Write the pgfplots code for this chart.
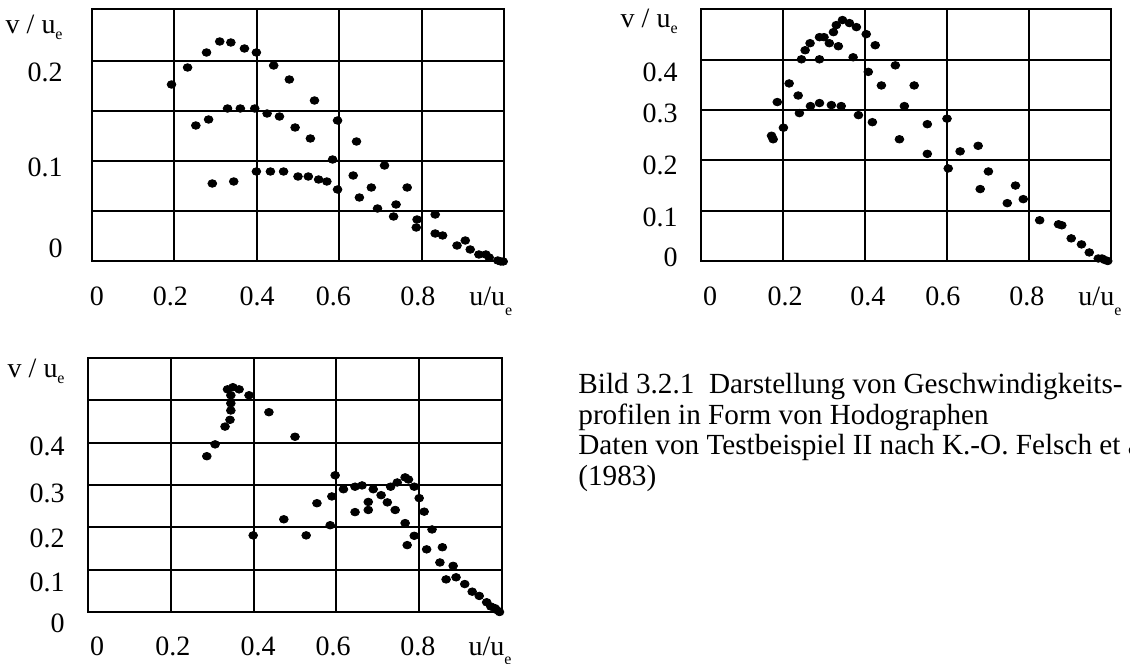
\documentclass[border=0pt]{standalone}
\usepackage{fontspec}
\setmainfont{Liberation Serif}
\usepackage{pgfplots}
\usepackage{pgfplotstable}
\pgfplotsset{compat=1.18}

\pgfplotstableread{
x y
0.193 0.177
0.232 0.194
0.278 0.209
0.310 0.220
0.337 0.219
0.370 0.213
0.399 0.209
0.441 0.196
0.479 0.182
0.540 0.161
0.596 0.141
0.642 0.120
0.584 0.102
0.710 0.096
0.765 0.074
0.634 0.086
0.596 0.072
0.678 0.074
0.649 0.064
0.693 0.053
0.738 0.057
0.732 0.045
0.789 0.042
0.787 0.034
0.833 0.047
0.833 0.028
0.851 0.026
0.886 0.016
0.906 0.021
0.918 0.012
0.939 0.007
0.956 0.007
0.964 0.004
0.985 0.001
0.992 0.000
0.998 0.000
0.252 0.136
0.283 0.142
0.329 0.153
0.360 0.153
0.395 0.153
0.425 0.148
0.455 0.145
0.493 0.134
0.530 0.123
0.292 0.078
0.344 0.080
0.399 0.090
0.433 0.090
0.465 0.090
0.500 0.085
0.525 0.085
0.550 0.082
0.570 0.080
}\dataA

\pgfplotstableread{
x y
0.172 0.249
0.176 0.242
0.186 0.316
0.201 0.265
0.215 0.353
0.237 0.329
0.240 0.294
0.245 0.401
0.254 0.419
0.266 0.433
0.267 0.308
0.289 0.314
0.289 0.401
0.289 0.445
0.300 0.445
0.313 0.433
0.318 0.310
0.323 0.455
0.330 0.469
0.335 0.427
0.342 0.308
0.345 0.479
0.362 0.473
0.371 0.405
0.379 0.465
0.384 0.290
0.403 0.451
0.408 0.376
0.418 0.276
0.425 0.429
0.440 0.349
0.474 0.389
0.484 0.242
0.496 0.308
0.520 0.349
0.552 0.272
0.552 0.213
0.600 0.283
0.632 0.218
0.676 0.229
0.603 0.184
0.701 0.178
0.681 0.143
0.767 0.150
0.747 0.115
0.786 0.123
0.826 0.081
0.872 0.073
0.880 0.071
0.903 0.045
0.928 0.033
0.947 0.017
0.969 0.005
0.978 0.005
0.985 0.002
0.992 0.000
}\dataB

\pgfplotstableread{
x y
0.287 0.368
0.307 0.396
0.331 0.438
0.343 0.454
0.345 0.476
0.345 0.493
0.345 0.512
0.337 0.526
0.350 0.531
0.365 0.526
0.389 0.512
0.437 0.472
0.500 0.414
0.399 0.181
0.473 0.219
0.527 0.181
0.553 0.257
0.585 0.205
0.589 0.273
0.597 0.323
0.617 0.290
0.645 0.296
0.662 0.299
0.645 0.236
0.677 0.260
0.677 0.241
0.689 0.290
0.708 0.276
0.723 0.259
0.731 0.296
0.747 0.306
0.766 0.318
0.774 0.313
0.742 0.241
0.766 0.210
0.788 0.296
0.800 0.269
0.788 0.180
0.771 0.158
0.812 0.237
0.831 0.195
0.818 0.148
0.856 0.153
0.850 0.117
0.882 0.109
0.865 0.077
0.889 0.082
0.910 0.066
0.928 0.048
0.945 0.038
0.963 0.023
0.973 0.013
0.983 0.009
0.987 0.005
0.994 0.000
}\dataC

\pgfplotsset{
  hodo/.style={
    scale only axis, clip=false,
    xmin=0, xmax=1, ymin=0,
    axis line style={line width=1pt},
    major tick length=0pt, minor tick length=0pt,
    tick style={draw=none},
    xmajorgrids=false, ymajorgrids=false,
    xminorgrids=true, yminorgrids=true,
    minor grid style={black, line width=1pt},
    minor xtick={0.2,0.4,0.6,0.8},
    /pgf/number format/assume math mode=true,
    ticklabel style={font=\fontsize{14}{16}\selectfont},
    xticklabel style={anchor=base, inner sep=0pt},
    yticklabel style={anchor=east, inner sep=0pt},
  },
  dots/.style={only marks, mark=*, mark size=1.9pt, black,
    mark options={xscale=1.15, fill=black, draw=black}},
}

\newcommand{\ue}{u/u\raisebox{-5pt}{\fontsize{8}{8}\selectfont e}}
\newcommand{\vu}{v / u\raisebox{-3pt}{\fontsize{8}{8}\selectfont e}}

\begin{document}
\begin{tikzpicture}[x=1pt,y=1pt]
\path[use as bounding box] (0,0) rectangle (565,332);

% Panel 1
\begin{axis}[hodo, at={(46pt,201.25pt)}, anchor=south west,
  width=206pt, height=126pt, ymax=0.252,
  minor ytick={0.05,0.1,0.15,0.2},
  xtick={0.012,0.190,0.401,0.586,0.791,0.968},
  xticklabels={0,0.2,0.4,0.6,0.8,\ue},
  ytick={0.013,0.094,0.189},
  yticklabels={0,0.1,0.2},
  xticklabel style={yshift=-22.25pt},
  yticklabel style={xshift=-14.5pt}]
\addplot[dots] table[x=x,y=y] {\dataA};
\end{axis}

% Panel 2
\begin{axis}[hodo, at={(350.5pt,201.5pt)}, anchor=south west,
  width=205pt, height=125.75pt, ymax=0.5,
  minor ytick={0.1,0.2,0.3,0.4},
  xtick={0.022,0.205,0.407,0.590,0.795,0.973},
  xticklabels={0,0.2,0.4,0.6,0.8,\ue},
  ytick={0.008,0.087,0.191,0.294,0.374},
  yticklabels={0,0.1,0.2,0.3,0.4},
  xticklabel style={yshift=-22.5pt},
  yticklabel style={xshift=-11.5pt}]
\addplot[dots] table[x=x,y=y] {\dataB};
\end{axis}

% Panel 3
\begin{axis}[hodo, at={(44pt,26pt)}, anchor=south west,
  width=207pt, height=127pt, ymax=0.6,
  minor ytick={0.1,0.2,0.3,0.4,0.5},
  xtick={0.022,0.205,0.411,0.592,0.797,0.971},
  xticklabels={0,0.2,0.4,0.6,0.8,\ue},
  ytick={0,0.1,0.2,0.3,0.4},
  yticklabels={\smash{\raisebox{-10.25pt}{0}},\smash{\raisebox{-10.9pt}{0.1}},\smash{\raisebox{-10.1pt}{0.2}},\smash{\raisebox{-8.75pt}{0.3}},\smash{\raisebox{-6.4pt}{0.4}}},
  xticklabel style={yshift=-21.5pt},
  yticklabel style={xshift=-11.5pt}]
\addplot[dots] table[x=x,y=y] {\dataC};
\end{axis}

\node[anchor=base east, inner sep=0pt, font=\fontsize{14}{16}\selectfont] at (31.5,315) {\vu};
\node[anchor=base east, inner sep=0pt, font=\fontsize{14}{16}\selectfont] at (339,318) {\vu};
\node[anchor=base east, inner sep=0pt, font=\fontsize{14}{16}\selectfont] at (32.5,143) {\vu};

\begin{scope}[every node/.style={anchor=base west, inner sep=0pt, font=\fontsize{14.6}{16}\selectfont}]
\node at (289,135) {Bild 3.2.1\ \ Darstellung von Geschwindigkeits-};
\node at (289,119.75) {profilen in Form von Hodographen};
\node at (289,104.5) {Daten von Testbeispiel II nach K.-O. Felsch et al.};
\node at (289,89.25) {(1983)};
\end{scope}
\end{tikzpicture}
\end{document}
